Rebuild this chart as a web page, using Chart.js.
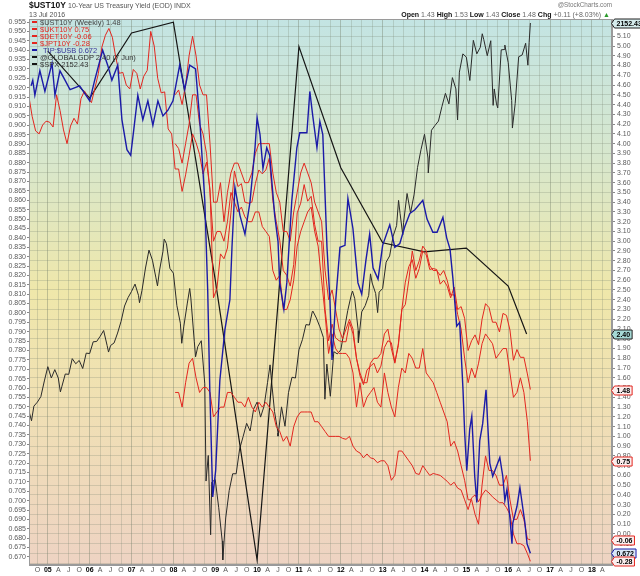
<!DOCTYPE html>
<html><head><meta charset="utf-8">
<script src="https://cdn.jsdelivr.net/npm/chart.js@4.4.1/dist/chart.umd.min.js"></script>
<style>
body{margin:0;background:#fff;}
#wrap{position:relative;width:640px;height:576px;overflow:hidden;font-family:"Liberation Sans",Arial,sans-serif;}
canvas{position:absolute;left:0;top:0;}
.h{position:absolute;white-space:nowrap;line-height:1;}
.lg{position:absolute;white-space:nowrap;font-size:7.5px;line-height:7px;height:7px;}
.lg i{display:inline-block;width:5px;height:2px;vertical-align:middle;margin-right:3px;position:relative;top:-1px;}
</style></head>
<body>
<div id="wrap">
<canvas id="c" width="640" height="576"></canvas>
<div class="h" style="left:29px;top:1px;font-size:8.5px;font-weight:bold;color:#111">$UST10Y <span style="font-weight:normal;font-size:7px;color:#555">10-Year US Treasury Yield (EOD) INDX</span></div>
<div class="h" style="left:29px;top:11px;font-size:7px;color:#555">13 Jul 2016</div>
<div class="h" style="right:28px;top:2px;font-size:6.3px;color:#777">@StockCharts.com</div>
<div class="h" style="right:30px;top:11px;font-size:7px;color:#666"><b style="color:#111">Open</b> 1.43 <b style="color:#111">High</b> 1.53 <b style="color:#111">Low</b> 1.43 <b style="color:#111">Close</b> 1.48 <b style="color:#111">Chg</b> +0.11 (+8.03%) <span style="color:#2a9a2a">▲</span></div>
<div id="legend"></div>
</div>
<script>
// ---- data ----
const END = 2016.53;
// 10-year yields, monthly (mid-month), last value = 13 Jul 2016
const ust10y = [4.50,4.28,4.13,4.10,4.19,4.23,
4.22,4.17,4.50,4.34,4.14,4.00,4.18,4.26,4.20,4.46,4.54,4.47,
4.42,4.57,4.72,4.99,5.11,5.18,5.09,4.88,4.72,4.73,4.60,4.56,
4.76,4.72,4.56,4.69,4.75,5.15,5.00,4.67,4.52,4.53,4.15,4.10,
3.74,3.74,3.51,3.68,3.88,4.10,4.01,3.89,3.69,3.81,3.53,2.42,
2.52,2.87,2.82,2.93,3.29,3.72,3.56,3.59,3.40,3.39,3.40,3.59,
3.73,3.69,3.73,3.85,3.42,3.20,3.01,2.70,2.65,2.54,2.76,3.29,
3.39,3.58,3.41,3.46,3.17,3.00,3.00,2.30,1.98,2.15,2.01,1.98,
1.97,1.97,2.17,2.05,1.80,1.62,1.53,1.68,1.72,1.75,1.65,1.72,
1.91,1.98,1.96,1.76,1.93,2.30,2.58,2.74,2.81,2.62,2.72,2.90,
2.86,2.71,2.72,2.71,2.56,2.60,2.54,2.42,2.53,2.30,2.33,2.21,
1.88,1.98,2.04,1.94,2.20,2.36,2.32,2.17,2.17,2.07,2.26,2.24,
2.09,1.78,1.89,1.81,1.81,1.64,1.48];
const ukt10y = [4.50,4.55,4.40,4.60,4.90,5.10,4.90,4.60,4.50,4.50,4.00,3.40,
3.40,3.60,3.20,3.50,3.70,3.80,3.80,3.70,3.60,3.60,3.70,3.90,
4.00,4.00,4.00,4.00,3.70,3.50,3.40,3.10,3.10,3.00,3.30,3.50,
3.70,3.80,3.70,3.60,3.40,3.30,3.20,2.70,2.40,2.50,2.30,2.10,
2.00,2.10,2.20,2.10,1.80,1.65,1.55,1.55,1.75,1.80,1.80,1.85,
2.05,2.10,1.90,1.75,1.95,2.30,2.35,2.60,2.90,2.70,2.80,2.95,
2.90,2.75,2.70,2.70,2.65,2.70,2.60,2.45,2.45,2.25,2.10,1.80,
1.55,1.70,1.60,1.75,1.95,2.05,2.00,1.95,1.80,1.85,1.90,1.90,
1.65,1.40,1.45,1.60,1.45,1.15,0.75];
const det10y = [4.00,3.95,3.80,4.00,4.20,4.50,4.50,4.20,4.10,3.90,3.50,3.00,
3.10,3.10,3.00,3.20,3.50,3.40,3.30,3.35,3.25,3.20,3.20,3.30,
3.30,3.15,3.10,3.05,2.70,2.60,2.65,2.30,2.30,2.40,2.60,2.95,
3.10,3.20,3.30,3.35,3.10,2.95,2.60,2.25,1.85,2.05,1.90,1.85,
1.85,1.85,1.80,1.65,1.30,1.55,1.30,1.40,1.45,1.50,1.35,1.30,
1.65,1.45,1.30,1.20,1.50,1.70,1.65,1.85,1.80,1.70,1.70,1.90,
1.65,1.60,1.55,1.45,1.35,1.25,1.15,0.90,0.95,0.85,0.70,0.55,
0.35,0.35,0.20,0.10,0.50,0.80,0.65,0.65,0.60,0.50,0.50,0.60,
0.35,0.15,0.15,0.25,0.15,-0.05,-0.06];
const jpt10y = [1.45,1.45,1.30,1.55,1.75,1.80,1.60,1.45,1.50,1.50,1.45,1.20,
1.25,1.30,1.30,1.45,1.45,1.40,1.35,1.35,1.30,1.40,1.30,1.25,
1.35,1.30,1.35,1.30,1.25,1.10,1.05,0.95,1.00,0.90,1.10,1.20,
1.25,1.25,1.25,1.25,1.15,1.15,1.10,1.05,1.00,1.00,1.00,1.00,
0.98,0.97,1.00,0.90,0.85,0.83,0.78,0.82,0.78,0.77,0.73,0.75,
0.75,0.70,0.55,0.60,0.85,0.85,0.80,0.75,0.70,0.62,0.61,0.70,
0.65,0.60,0.62,0.61,0.60,0.57,0.54,0.50,0.53,0.47,0.45,0.35,
0.25,0.37,0.40,0.33,0.40,0.45,0.42,0.38,0.35,0.32,0.32,0.27,
0.20,0.00,-0.10,-0.10,-0.12,-0.20,-0.28];
// TIP:$USB ratio (left axis)
const tipDates = [2004.60,2004.64,2004.69,2004.81,2004.93,2005.10,2005.17,2005.29,2005.41,2005.53,2005.76,2006.00,2006.12,2006.31,2006.43,2006.53,2006.67,2006.77,2006.89,2006.98,2007.05,2007.15,2007.27,2007.39,2007.51,2007.63,2007.75,2007.87,2007.99,2008.15,2008.27,2008.39,2008.53,2008.63,2008.75,2008.82,2008.87,2008.94,2009.01,2009.11,2009.23,2009.35,2009.40,2009.47,2009.59,2009.71,2009.83,2009.95,2010.00,2010.07,2010.14,2010.23,2010.30,2010.42,2010.50,2010.54,2010.64,2010.71,2010.83,2010.95,2011.02,2011.19,2011.26,2011.33,2011.43,2011.50,2011.57,2011.67,2011.74,2011.79,2011.88,2011.98,2012.10,2012.17,2012.29,2012.41,2012.50,2012.60,2012.69,2012.77,2012.89,2013.00,2013.17,2013.29,2013.41,2013.53,2013.65,2013.77,2013.96,2014.06,2014.20,2014.30,2014.44,2014.53,2014.61,2014.68,2014.77,2014.84,2014.92,2014.96,2015.01,2015.08,2015.13,2015.20,2015.25,2015.32,2015.39,2015.47,2015.51,2015.56,2015.63,2015.80,2015.87,2015.92,2015.97,2016.04,2016.09,2016.11,2016.21,2016.28,2016.33,2016.40,2016.45,2016.53];
const tipValues = [0.921,0.924,0.916,0.929,0.918,0.933,0.916,0.929,0.924,0.919,0.921,0.913,0.924,0.940,0.932,0.924,0.932,0.903,0.887,0.884,0.897,0.916,0.903,0.913,0.900,0.913,0.905,0.908,0.913,0.932,0.919,0.932,0.930,0.903,0.860,0.812,0.759,0.702,0.716,0.764,0.791,0.807,0.835,0.867,0.852,0.842,0.859,0.888,0.904,0.895,0.877,0.888,0.884,0.852,0.838,0.816,0.802,0.816,0.860,0.888,0.896,0.896,0.918,0.905,0.888,0.902,0.895,0.835,0.807,0.775,0.807,0.835,0.836,0.861,0.845,0.816,0.810,0.828,0.842,0.824,0.818,0.836,0.847,0.835,0.837,0.846,0.853,0.855,0.860,0.850,0.843,0.843,0.851,0.840,0.834,0.818,0.793,0.795,0.759,0.736,0.716,0.738,0.745,0.713,0.699,0.732,0.741,0.759,0.741,0.720,0.713,0.723,0.713,0.700,0.706,0.691,0.677,0.688,0.697,0.707,0.699,0.688,0.677,0.672];
// World GDP growth (own scale), vertices
const gdpDates = [2005.0,2006.0,2007.0,2008.0,2009.0,2010.0,2011.0,2012.0,2013.0,2014.0,2015.0,2016.0,2016.44];
const gdpValues = [5.53,5.01,5.73,5.85,3.00,-0.10,5.58,4.24,3.41,3.31,3.35,2.93,2.40];
// S&P 500 month-end closes from Aug 2004 (own scale)
const spxMonthly = [1104,1115,1130,1173,1212,
1181,1204,1181,1157,1192,1191,1234,1220,1229,1207,1249,1248,
1280,1281,1295,1311,1270,1270,1277,1304,1336,1378,1401,1418,
1438,1407,1421,1482,1531,1503,1455,1474,1527,1549,1481,1468,
1379,1331,1323,1386,1400,1280,1267,1283,1165,969,896,903,
826,735,798,873,919,919,987,1021,1057,1036,1096,1115,
1074,1104,1169,1187,1089,1031,1102,1049,1141,1183,1181,1258,
1286,1327,1326,1364,1345,1321,1292,1219,1131,1253,1247,1258,
1312,1366,1408,1398,1310,1362,1379,1407,1441,1412,1416,1426,
1498,1515,1569,1598,1631,1606,1686,1633,1682,1757,1806,1848,
1783,1859,1872,1884,1924,1960,1931,2003,1972,2018,2068,2059,
1995,2105,2068,2086,2107,2063,2104,1972,1920,2079,2080,2044,
1940,1932,2060,2065,2097,2099];
// S&P 500 weekly swing points
const spxSwingDates = [2004.56,2004.61,2005.30,2006.45,2007.19,2007.62,2007.78,2008.20,2008.39,2008.53,2008.78,2008.89,2009.18,2010.31,2010.50,2011.32,2011.62,2012.28,2012.42,2012.71,2012.88,2013.38,2013.48,2014.09,2014.79,2015.38,2015.64,2015.72,2015.92,2016.10,2016.47,2016.53];
const spxSwingValues = [1086,1064,1143,1252,1387,1433,1561,1276,1426,1239,899,752,683,1217,1022,1363,1123,1419,1278,1466,1360,1667,1573,1742,1887,2123,1927,1931,2092,1865,2037,2152.43];
// axis tick values
const rightTicks = []; for (let k = -3; k <= 52; k++) rightTicks.push(k / 10);
const leftTicks = []; for (let k = 134; k <= 191; k++) leftTicks.push(k / 200);
const quarterTicks = []; for (let k = 0; k <= 54; k++) quarterTicks.push(2004.75 + k * 0.25);

// ---- build ----
const RED = '#e3261f', BLUE = '#1b1ba8', BLACK = '#151515';
const last = a => a[a.length - 1];
function monthly(y0, m0, vals, off) {
  return vals.map((v, i) => ({x: i === vals.length - 1 ? END : y0 + (m0 - 1 + i + off) / 12, y: v}));
}
function pairs(d, v) { return d.map((x, i) => ({x: x, y: v[i]})); }
const spxPts = spxMonthly.map((v, i) => ({x: 2004 + (8 + i) / 12, y: v}))
  .concat(pairs(spxSwingDates, spxSwingValues)).sort((a, b) => a.x - b.x);

Chart.defaults.font.family = '"Liberation Sans", Arial, sans-serif';
const lineDs = (label, data, color, axis, w, order) => ({label, data, borderColor: color, borderWidth: w,
  yAxisID: axis, pointRadius: 0, tension: 0, fill: false, order});

const datasets = [
  lineDs('$UST10Y', monthly(2004, 7, ust10y, 0.5), RED, 'y', 1, 1),
  lineDs('$UKT10Y', monthly(2008, 1, ukt10y, 0.5), RED, 'y', 1, 1),
  lineDs('$DET10Y', monthly(2008, 1, det10y, 0.5), RED, 'y', 1, 1),
  lineDs('$JPT10Y', monthly(2008, 1, jpt10y, 0.5), RED, 'y', 1, 1),
  lineDs('TIP:$USB', pairs(tipDates, tipValues), BLUE, 'yL', 1.4, 0),
  lineDs('@GLOBALGDP', pairs(gdpDates, gdpValues), BLACK, 'yG', 1.2, 2),
  lineDs('$SPX', spxPts, '#2a2a2a', 'yS', 1, 2)
];

const gridCol = 'rgba(120,132,112,0.26)';
const bgPlugin = {
  id: 'bg',
  beforeDraw(chart) {
    const {ctx, chartArea: a} = chart;
    const g = ctx.createLinearGradient(0, a.top, 0, a.bottom);
    g.addColorStop(0, '#c3e4e3');
    g.addColorStop(0.25, '#d7e7cd');
    g.addColorStop(0.5, '#efe7aa');
    g.addColorStop(0.7, '#f0e0b3');
    g.addColorStop(1, '#eed3c3');
    ctx.save(); ctx.fillStyle = g;
    ctx.fillRect(a.left, a.top, a.right - a.left, a.bottom - a.top);
    ctx.restore();
  },
  afterDraw(chart) {
    const {ctx, chartArea: a} = chart;
    ctx.save(); ctx.strokeStyle = '#9a9a9a'; ctx.lineWidth = 1;
    ctx.strokeRect(a.left + 0.5, a.top + 0.5, a.right - a.left - 1, a.bottom - a.top - 1);
    ctx.restore();
  }
};
const boxes = [
  {axis: 'yS', v: last(spxSwingValues), t: last(spxSwingValues).toFixed(2), s: '#222', f: '#d5ebec'},
  {axis: 'yG', v: last(gdpValues), t: last(gdpValues).toFixed(2), s: '#222', f: '#a6d9d5'},
  {axis: 'y', v: last(ust10y), t: last(ust10y).toFixed(2), s: RED, f: '#fbeeee'},
  {axis: 'y', v: last(ukt10y), t: last(ukt10y).toFixed(2), s: RED, f: '#fbeeee'},
  {axis: 'y', v: last(det10y), t: last(det10y).toFixed(2), s: RED, f: '#fbeeee'},
  {axis: 'yL', v: last(tipValues), t: last(tipValues).toFixed(3), s: BLUE, f: '#d8e6f6'},
  {axis: 'y', v: last(jpt10y), t: last(jpt10y).toFixed(2), s: RED, f: '#fbeeee'}
];
const boxPlugin = {
  id: 'boxes',
  afterDraw(chart) {
    const ctx = chart.ctx;
    ctx.save();
    ctx.font = 'bold 7px "Liberation Sans", Arial, sans-serif';
    ctx.textBaseline = 'middle';
    boxes.forEach(b => {
      const y = Math.round(chart.scales[b.axis].getPixelForValue(b.v)) + 0.5;
      const x0 = 611.5, w = ctx.measureText(b.t).width + 4, h = 4.5;
      ctx.beginPath();
      ctx.moveTo(x0, y); ctx.lineTo(x0 + 3, y - h); ctx.lineTo(x0 + 3 + w, y - h);
      ctx.lineTo(x0 + 3 + w, y + h); ctx.lineTo(x0 + 3, y + h); ctx.closePath();
      ctx.fillStyle = b.f; ctx.fill();
      ctx.strokeStyle = b.s; ctx.lineWidth = 1; ctx.stroke();
      ctx.fillStyle = '#000'; ctx.fillText(b.t, x0 + 5, y + 0.5);
    });
    ctx.restore();
  }
};
const isYear = v => Math.abs(v - Math.round(v)) < 1e-6;
const qLabel = v => {
  const f = v - Math.floor(v + 1e-9);
  if (f < 0.01) return String(Math.round(v) % 100).padStart(2, '0');
  if (Math.abs(f - 0.25) < 0.01) return 'A';
  if (Math.abs(f - 0.5) < 0.01) return 'J';
  return 'O';
};

new Chart(document.getElementById('c'), {
  type: 'line',
  data: {datasets},
  options: {
    responsive: false, animation: false, events: [],
    layout: {padding: {top: 19, left: 0, right: 0, bottom: 0}},
    plugins: {legend: {display: false}, tooltip: {enabled: false}},
    scales: {
      x: {type: 'linear', min: 2004.55, max: 2018.48,
        afterBuildTicks: s => { s.ticks = quarterTicks.map(v => ({value: v})); },
        afterFit: s => { s.height = 11; },
        grid: {drawTicks: false, lineWidth: 1,
          color: c => (c.tick && isYear(c.tick.value)) ? 'rgba(110,122,100,0.38)' : gridCol},
        border: {color: '#9a9a9a'},
        ticks: {autoSkip: false, maxRotation: 0, minRotation: 0, padding: 1,
          callback: v => qLabel(v),
          font: c => ({size: 7, weight: (c.tick && isYear(c.tick.value)) ? 'bold' : 'normal'}),
          color: c => (c.tick && isYear(c.tick.value)) ? '#000' : '#555'}},
      yL: {position: 'left', min: 0.6657, max: 0.9566,
        afterBuildTicks: s => { s.ticks = leftTicks.map(v => ({value: v})); },
        afterFit: s => { s.width = 29; },
        grid: {drawOnChartArea: false, tickLength: 2, color: '#888'},
        border: {color: '#9a9a9a'},
        ticks: {autoSkip: false, padding: 1, font: {size: 7}, color: '#5a5a5a', callback: v => v.toFixed(3)}},
      y: {position: 'right', min: -0.318, max: 5.277,
        afterBuildTicks: s => { s.ticks = rightTicks.map(v => ({value: v})); },
        afterFit: s => { s.width = 28; },
        grid: {color: gridCol, tickColor: '#888', tickLength: 3},
        border: {color: '#9a9a9a'},
        ticks: {autoSkip: false, padding: 2, font: {size: 7}, color: '#5a5a5a', callback: v => v.toFixed(2)}},
      yS: {display: false, min: 669.3, max: 2163.4},
      yG: {display: false, min: -0.155, max: 5.885}
    }
  },
  plugins: [bgPlugin, boxPlugin]
});

// ---- legend (HTML text) ----
const legendRows = [
  {t: '$UST10Y (Weekly) ' + last(ust10y).toFixed(2), d: RED, c: '#444'},
  {t: '$UKT10Y ' + last(ukt10y).toFixed(2), d: RED, c: RED},
  {t: '$DET10Y ' + last(det10y).toFixed(2), d: RED, c: RED},
  {t: '$JPT10Y ' + last(jpt10y).toFixed(2), d: RED, c: RED},
  {t: 'TIP:$USB ' + last(tipValues).toFixed(3), d: BLUE, c: '#3a3a9a', pad: 3},
  {t: '@GLOBALGDP ' + last(gdpValues).toFixed(2) + ' (7 Jun)', d: BLACK, c: '#333'},
  {t: '$SPX ' + last(spxSwingValues).toFixed(2), d: BLACK, c: '#333'}
];
const lg = document.getElementById('legend');
legendRows.forEach((r, i) => {
  const el = document.createElement('div');
  el.className = 'lg';
  el.style.left = '32px';
  el.style.top = (19.2 + i * 6.9) + 'px';
  el.style.color = r.c;
  const dash = document.createElement('i');
  dash.style.background = r.d;
  if (r.pad) dash.style.marginRight = (3 + r.pad) + 'px';
  el.appendChild(dash);
  el.appendChild(document.createTextNode(r.t));
  lg.appendChild(el);
});
</script>
</body></html>
